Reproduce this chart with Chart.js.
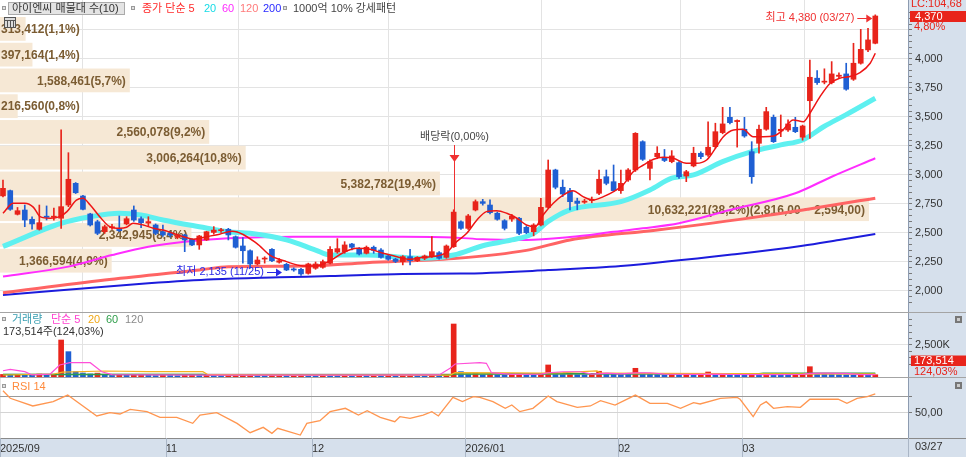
<!DOCTYPE html>
<html>
<head>
<meta charset="utf-8">
<script src="https://cdn.jsdelivr.net/npm/chart.js@4.4.1/dist/chart.umd.min.js"></script>
<style>
  body { margin: 0; background: #fff; width: 966px; height: 457px; overflow: hidden; position: relative; }
  canvas { position: absolute; left: 0; }
</style>
</head>
<body>
<canvas id="priceCanvas" width="966" height="312" style="top:0"></canvas>
<canvas id="volCanvas" width="966" height="65" style="top:312px"></canvas>
<canvas id="rsiCanvas" width="966" height="80" style="top:377px"></canvas>
<script>
// daily candles, 2025/09 .. 2026/03/27 (index = trading day)
const opens  = [2819,2865,2661,2698,2618,2532,2645,2635,2627,2741,2928,2819,2664,2597,2511,2545,2540,2578,2698,2623,2585,2569,2511,2500,2462,2483,2446,2397,2440,2505,2520,2532,2468,2388,2347,2233,2275,2359,2248,2230,2190,2187,2152,2196,2204,2239,2336,2339,2405,2368,2325,2377,2353,2302,2275,2253,2296,2261,2282,2296,2330,2290,2382,2597,2540,2698,2770,2741,2670,2606,2620,2627,2549,2511,2569,2721,3043,2894,2865,2775,2765,2780,2842,2985,2942,2865,2957,3043,3287,3057,3158,3150,3115,3106,2991,3078,3187,3172,3244,3365,3497,3460,3394,3201,3273,3394,3497,3380,3388,3411,3325,3640,3834,3800,3796,3850,3871,3825,3963,4078,4135];
const closes = [2885,2704,2692,2612,2578,2589,2635,2645,2727,2963,2847,2704,2569,2497,2554,2554,2520,2623,2612,2589,2598,2497,2483,2480,2476,2440,2397,2474,2511,2525,2525,2483,2377,2347,2233,2267,2282,2261,2261,2181,2181,2147,2233,2233,2253,2359,2365,2397,2377,2319,2377,2350,2290,2273,2255,2296,2261,2290,2302,2339,2282,2388,2680,2540,2647,2770,2755,2675,2618,2540,2645,2497,2503,2569,2721,3043,2894,2836,2770,2755,2775,2790,2963,2928,2865,2928,3043,3359,3135,3115,3187,3125,3164,2985,3028,3187,3158,3239,3373,3440,3451,3470,3336,2985,3394,3546,3287,3394,3440,3373,3422,3842,3796,3805,3871,3860,3739,3963,4083,4164,4370];
const highs  = [2957,2870,2720,2741,2640,2741,2733,2715,3388,3192,2935,2825,2670,2610,2568,2575,2647,2640,2733,2640,2640,2578,2569,2510,2490,2490,2450,2480,2515,2555,2540,2540,2475,2460,2355,2295,2295,2365,2280,2238,2200,2195,2240,2250,2267,2382,2451,2425,2410,2375,2388,2388,2365,2310,2282,2305,2359,2296,2310,2468,2339,2397,2700,2605,2660,2785,2790,2785,2680,2615,2660,2635,2560,2580,2799,3129,3050,2957,2885,2800,2790,2810,3043,3043,3086,3043,3055,3365,3295,3130,3244,3220,3210,3115,3040,3239,3200,3459,3446,3583,3583,3475,3497,3287,3431,3583,3517,3517,3475,3497,3430,3991,3900,3915,3977,3880,3963,4135,4255,4264,4380];
const lows   = [2810,2695,2655,2554,2532,2525,2612,2610,2540,2727,2840,2698,2560,2485,2497,2530,2512,2570,2600,2545,2555,2485,2470,2465,2450,2339,2390,2359,2435,2490,2505,2440,2370,2239,2196,2225,2240,2253,2240,2175,2170,2135,2145,2187,2196,2233,2325,2325,2355,2310,2319,2325,2282,2265,2245,2225,2225,2253,2270,2290,2275,2282,2375,2530,2530,2690,2740,2664,2610,2526,2600,2485,2494,2475,2560,2715,2880,2813,2698,2700,2755,2760,2830,2915,2858,2842,2945,3030,3125,2957,3140,3115,3105,2970,2942,3070,3140,3160,3230,3355,3440,3240,3325,2928,3187,3385,3280,3330,3375,3365,3300,3316,3780,3785,3785,3830,3730,3815,3955,4063,4130];
// volume, thousand shares
const volumes = [200,160,210,180,150,230,140,190,2890,1980,420,310,240,300,150,120,180,140,160,200,130,110,150,120,100,140,160,120,150,110,100,130,150,170,200,140,120,130,160,110,140,180,150,120,200,150,130,160,110,120,100,130,110,120,90,140,160,110,100,150,130,200,4140,420,250,300,180,200,160,150,170,200,160,140,230,940,300,220,260,200,180,200,450,280,250,230,200,680,300,210,180,160,200,170,190,160,230,390,200,220,190,170,160,200,180,220,180,160,150,170,200,805,250,230,200,180,170,160,200,139.9,173.514];

// moving averages (index, price)
const ma5Idx = [0,1.4,3,4.2,5.1,6.5,7.8,8.8,10.1,11,12,13.3,14.7,16.1,17,17.9,19.3,20.7,22,23.4,24.8,26.2,28,29.8,31.5,34.9,36.7,39,41.3,43.1,45,46.8,48.7,50.5,52.3,54.2,56,57.8,59.7,61,62.4,63.8,65.2,66.5,67.9,69.3,70.7,72,73.2,74.3,75.7,77.1,78.4,79.8,81.2,82.6,84,85.3,86.7,88.1,89.5,90.8,92.2,94,95.4,96.8,97.7,99.1,100.5,101.8,103.2,104.6,106,107.3,108.7,110.1,111,112.4,113.8,115.1,116.5,117.9,119.3,120];
const ma5Val = [2670,2756,2756,2721,2641,2627,2641,2684,2784,2799,2741,2641,2554,2540,2549,2584,2569,2540,2526,2497,2468,2446,2468,2490,2515,2411,2310,2253,2216,2216,2261,2330,2368,2359,2325,2296,2273,2290,2302,2330,2425,2497,2612,2684,2692,2670,2627,2569,2554,2655,2756,2828,2865,2813,2784,2813,2856,2914,3028,3086,3135,3152,3144,3101,3101,3129,3201,3330,3388,3394,3330,3330,3336,3388,3474,3459,3532,3675,3790,3834,3848,3882,3963,4049];
const ma20Idx = [0,8,12,16,19,22,27,31,34,39,43,45,50,55,58,62,66,70,73,75,78,85,89,92,95,99,103,107,110,113,116,120];
const ma20Val = [2384,2584,2640,2670,2655,2612,2554,2511,2497,2440,2353,2310,2310,2290,2282,2310,2390,2440,2497,2600,2700,2770,2871,2972,3000,3115,3201,3259,3302,3420,3520,3661];
const ma60Idx = [0,9,15,20,25,31,40,55,62,66,72,78,84,88,93,100,109,114,120];
const ma60Val = [2124,2210,2310,2382,2425,2454,2468,2468,2462,2445,2440,2465,2510,2540,2584,2698,2842,2985,3144];
const ma120Idx = [0,14,27,31,42,50,62,72,78,90,104,120];
const ma120Val = [1985,2095,2181,2210,2215,2244,2280,2350,2440,2526,2641,2799];
const ma200Idx = [0,20,29,38,45,55,63,75,85,101,110,115,120];
const ma200Val = [1966,2066,2101,2118,2129,2147,2150,2180,2215,2319,2390,2440,2491];

// volume averages (index, thousand shares)
const vma5Idx = [0,1,3,4,6.5,7.8,9.2,12,13.6,15,20,30,40,50,60,61.5,62.2,65.6,66.5,67.2,70,74,75,77,79.4,81,83,85,87,89,91,95,98,100,105,110,111,113,116,118,120];
const vma5Val = [490,600,414,160,230,937,1117,1117,414,180,170,150,150,150,160,680,1016,1117,1070,336,210,230,330,410,410,230,300,250,320,330,220,200,230,200,190,200,290,300,280,180,190];
const vma20Idx = [0,7,8.2,14,20,27.5,28.2,40,61.5,62.2,70,74,77,81.7,82.3,90,100,110,120];
const vma20Val = [156,234,380,470,420,414,180,150,150,340,330,300,336,480,300,280,260,250,250];
const vma60Idx = [0,27.5,28.2,61.5,62.2,80,104,104.6,120];
const vma60Val = [200,200,160,160,234,250,250,289,289];
const vma120Idx = [0,120];
const vma120Val = [210,230];

// RSI 14 (index, value)
const rsiIdx = [0,1,4.1,6.9,8.9,12.9,14.7,16.1,17.5,19.8,21.6,23.9,26.1,27.1,29.4,32.2,34,35.8,37,37.8,40.9,41.8,43.6,45,47.1,48.9,50.1,51.9,53.9,54.6,56,57.8,59,59.9,61.9,63.2,64.7,65.6,67.4,69.1,70,71.1,72.9,75,76.2,79,80.8,82.2,84.2,87,89,91.4,93.2,95,95.9,98.7,101,101.4,103.2,104.2,105,106,107.9,109.7,111,114.9,116.1,117.5,118.9,120];
const rsiVal = [77.5,68,58.4,63.8,72,45.9,50,48.4,54.2,51.3,44.2,44.2,36.7,47,50,36.7,25,31.7,24.2,30.5,22.1,36.7,40,51.3,55.5,47,52.5,44.2,38.8,45,43,47,51.3,45.9,69.2,63.8,70,69.2,63.8,55.5,59.6,51.3,55.5,70.9,63.8,56.7,58.4,65,59.6,72,61.7,61.7,55.5,62.5,60.9,68,69.2,66.8,45,59.6,63.8,55.5,57.5,56.7,66.8,66.8,61.7,68,70,73.4];

// volume profile bands (매물대)
const bandTops = [4370,4148,3926,3704,3482,3260,3038,2816,2594,2372];
const bandStep = 222;
const bandVolumes = [313412,397164,1588461,216560,2560078,3006264,5382782,10632221,2342945,1366594];
const bandPcts = ['1,1','1,4','5,7','0,8','9,2','10,8','19,4','38,2','8,4','4,9'];
const bandRange = '2,816,00 ~ 2,594,00';

// month axis
const monthPos = [-0.41,22.4,42.5,63.6,84.6,101.7];
const monthNames = ['2025/09','11','12','2026/01','02','03'];
const priceTicks = [];
for (let v = 1900; v <= 4400; v += 50) priceTicks.push(v);

const exDivIdx = 62;
const lowIdx = 41, lowPrice = 2135;
const highIdx = 120, highPrice = 4380;

const FONT = "'Liberation Sans','Noto Sans CJK KR',sans-serif";
const UP = '#e8241b', DOWN = '#1f5fd3', AXIS_BG = '#d6e0ec';
const X_MIN = -0.41, X_MAX = 124.5;

const fmt = v => Math.round(v).toLocaleString('en-US');
const candleColors = closes.map((c, i) => c >= opens[i] ? UP : DOWN);
const volColors = volumes.map((v, i) => (i === 0 || v >= volumes[i - 1]) ? UP : DOWN);

function pts(xs, ys) { return xs.map((x, i) => ({x: x, y: ys[i]})); }

function lineSet(xs, ys, color, width, order, smooth) {
  return {
    type: 'line', data: pts(xs, ys), borderColor: color, borderWidth: width,
    pointRadius: 0, fill: false, order: order,
    cubicInterpolationMode: smooth ? 'monotone' : 'default', tension: 0
  };
}

function xAxis(showLabels) {
  return {
    type: 'linear', min: X_MIN, max: X_MAX, offset: false,
    afterBuildTicks: s => { s.ticks = monthPos.map(v => ({value: v})); },
    afterFit: s => { s.height = showLabels ? 19 : 0; s.paddingLeft = 0; s.paddingRight = 0; },
    grid: {color: '#e3e3e3', drawTicks: false},
    border: {display: false},
    ticks: {
      display: showLabels, align: 'start', padding: 4, autoSkip: false, maxRotation: 0,
      color: '#333', font: {family: FONT, size: 11},
      callback: (v, i) => monthNames[i]
    }
  };
}

function yAxis(min, max, ticks, label, gridColor) {
  return {
    type: 'linear', position: 'right', min: min, max: max,
    afterBuildTicks: s => { s.ticks = ticks.map(v => ({value: v})); },
    // keep the plot flush with the panel edges
    afterFit: s => { s.width = 58; s.paddingTop = 0; s.paddingBottom = 0; },
    grid: {color: c => gridColor(c.tick ? c.tick.value : null), tickColor: '#7a7a7a', tickLength: 4},
    border: {display: true, color: '#8d9bb0'},
    ticks: {autoSkip: false, padding: 3, color: '#333', font: {family: FONT, size: 11}, callback: v => label(v)}
  };
}

// light blue axis column on the right
const axisBg = {
  id: 'axisBg',
  beforeDraw(chart) {
    const c = chart.ctx, a = chart.chartArea;
    c.save();
    c.fillStyle = AXIS_BG;
    c.fillRect(a.right, 0, chart.width - a.right, chart.height);
    c.restore();
  }
};

function square(c, x, y) {
  c.fillStyle = '#9a9a9a';
  c.fillRect(x, y, 4, 4);
  c.fillStyle = '#e0e0e0';
  c.fillRect(x + 1, y + 1, 2, 2);
}

function arrowRight(c, x1, x2, y, color) {
  c.strokeStyle = color; c.fillStyle = color; c.lineWidth = 1;
  c.beginPath(); c.moveTo(x1, y + 0.5); c.lineTo(x2 - 4, y + 0.5); c.stroke();
  c.beginPath(); c.moveTo(x2, y + 0.5); c.lineTo(x2 - 6, y - 3.5); c.lineTo(x2 - 6, y + 4.5); c.closePath(); c.fill();
}

const bandsPlugin = {
  id: 'bands',
  beforeDatasetsDraw(chart) {
    const c = chart.ctx, a = chart.chartArea, y = chart.scales.y;
    const maxVol = Math.max(...bandVolumes);
    c.save();
    c.font = 'bold 12px ' + FONT;
    c.textBaseline = 'middle';
    bandTops.forEach((top, i) => {
      const y1 = y.getPixelForValue(top), y2 = y.getPixelForValue(top - bandStep);
      const w = a.width * 0.957 * bandVolumes[i] / maxVol;
      c.fillStyle = '#f6e8d5';
      c.fillRect(a.left, y1 + 1, w, y2 - y1 - 2);
      let txt = fmt(bandVolumes[i]) + '(' + bandPcts[i] + '%)';
      if (bandVolumes[i] === maxVol) txt += '(' + bandRange + ')';
      const tw = c.measureText(txt).width;
      c.fillStyle = '#7b5c32';
      c.fillText(txt, Math.max(a.left + 1, a.left + w - tw - 4), (y1 + y2) / 2 + 1);
    });
    c.restore();
  }
};

const priceNotes = {
  id: 'priceNotes',
  afterDraw(chart) {
    const c = chart.ctx, xs = chart.scales.x, ys = chart.scales.y;
    c.save();
    c.textBaseline = 'middle';

    // legend row
    c.font = '11px ' + FONT;
    square(c, 2, 6);
    c.fillStyle = '#e4e4e4'; c.fillRect(8, 2, 117, 13);
    c.strokeStyle = '#aaa'; c.lineWidth = 1; c.strokeRect(8.5, 2.5, 116, 12);
    c.fillStyle = '#333'; c.fillText('아이엔씨 매물대 수(10)', 12, 9);
    square(c, 131, 6);
    const parts = [['종가 단순 5', '#ff2a2a', 142], ['20', '#16dbe6', 204], ['60', '#ff2cff', 222], ['120', '#ff7a7a', 240], ['200', '#2a2aff', 263]];
    parts.forEach(p => { c.fillStyle = p[1]; c.fillText(p[0], p[2], 9); });
    square(c, 283, 6);
    c.fillStyle = '#444'; c.fillText('1000억 10% 강세패턴', 293, 9);

    // grid icon
    c.fillStyle = '#dcdcdc'; c.fillRect(4, 17, 12, 11);
    c.strokeStyle = '#555'; c.strokeRect(4.5, 17.5, 11, 10);
    c.beginPath();
    [7.5, 10.5, 13.5].forEach(x => { c.moveTo(x, 20); c.lineTo(x, 27); });
    c.moveTo(5, 20.5); c.lineTo(15, 20.5);
    c.stroke();

    // ex-dividend marker
    const dx = Math.round(xs.getPixelForValue(exDivIdx)) + 0.5;
    const dTop = ys.getPixelForValue(closes[exDivIdx]);
    c.fillStyle = '#444'; c.textAlign = 'center';
    c.fillText('배당락(0,00%)', dx, 137);
    c.textAlign = 'left';
    c.strokeStyle = '#f03030'; c.fillStyle = '#f03030';
    c.beginPath(); c.moveTo(dx, 145); c.lineTo(dx, dTop); c.stroke();
    c.beginPath(); c.moveTo(dx - 5, 155); c.lineTo(dx + 5, 155); c.lineTo(dx, 162); c.closePath(); c.fill();

    // high / low labels
    const hx = xs.getPixelForValue(highIdx) - 3, hy = Math.round(ys.getPixelForValue(highPrice) + 3);
    c.fillStyle = '#f03030'; c.textAlign = 'right';
    c.fillText('최고 ' + fmt(highPrice) + ' (03/27)', hx - 18, hy);
    arrowRight(c, hx - 15, hx, hy, '#f03030');
    const lx = xs.getPixelForValue(lowIdx) - 19, ly = Math.round(ys.getPixelForValue(lowPrice) - 3);
    c.fillStyle = '#2a2ae6';
    c.fillText('최저 ' + fmt(lowPrice) + ' (11/25)', lx - 18, ly);
    arrowRight(c, lx - 15, lx, ly, '#2a2ae6');
    c.textAlign = 'left';

    // right axis current price
    c.fillStyle = '#e8241b'; c.fillText('LC:104,68', 911, 4);
    c.fillRect(910, 11, 56, 11);
    c.fillStyle = '#fff'; c.fillText(fmt(closes[closes.length - 1]), 915, 16.5);
    c.fillStyle = '#e8241b'; c.fillText('4,80%', 914, 27);
    c.restore();
  }
};

new Chart(document.getElementById('priceCanvas'), {
  type: 'bar',
  data: {
    datasets: [
      lineSet(ma200Idx, ma200Val, '#1c1cdc', 2, 10, true),
      lineSet(ma120Idx, ma120Val, '#ff6464', 3, 9, true),
      lineSet(ma60Idx, ma60Val, '#ff2cff', 2, 8, true),
      lineSet(ma20Idx, ma20Val, '#5ef0f0', 5, 7, true),
      {
        type: 'bar', data: closes.map((_, i) => ({x: i, y: [lows[i], highs[i]]})),
        backgroundColor: candleColors, barThickness: 1, grouped: false, order: 5
      },
      {
        type: 'bar', data: closes.map((c, i) => ({x: i, y: [opens[i], c]})),
        backgroundColor: candleColors, barThickness: 5, minBarLength: 1, grouped: false, order: 4
      },
      lineSet(ma5Idx, ma5Val, '#ee1515', 1.5, 1, true)
    ]
  },
  options: {
    responsive: false, animation: false, events: [],
    layout: {padding: 0},
    plugins: {legend: {display: false}, tooltip: {enabled: false}},
    scales: {
      x: xAxis(false),
      y: yAxis(1819, 4508, priceTicks,
        v => (v % 250 === 0 && v >= 2000 && v <= 4000) ? fmt(v) : '',
        v => (v !== null && v % 250 === 0) ? '#e3e3e3' : 'rgba(0,0,0,0)')
    }
  },
  plugins: [axisBg, bandsPlugin, priceNotes]
});

// volume panel
const volNotes = {
  id: 'volNotes',
  afterDraw(chart) {
    const c = chart.ctx;
    c.save();
    c.strokeStyle = '#a4a4a4'; c.lineWidth = 1;
    c.beginPath(); c.moveTo(0, 0.5); c.lineTo(chart.width, 0.5); c.stroke();
    c.textBaseline = 'middle';
    c.font = '11px ' + FONT;
    square(c, 2, 5);
    const parts = [['거래량', '#3a9fb2', 12], ['단순 5', '#ff40d0', 51], ['20', '#f0a818', 88], ['60', '#2f9e4a', 106], ['120', '#8a8a8a', 125]];
    parts.forEach(p => { c.fillStyle = p[1]; c.fillText(p[0], p[2], 8); });
    const last = volumes[volumes.length - 1], prev = volumes[volumes.length - 2];
    const pct = (last / prev * 100).toFixed(2).replace('.', ',');
    c.fillStyle = '#333';
    c.fillText(fmt(last * 1000) + '주(' + pct + '%)', 3, 20);
    c.fillStyle = '#e8241b'; c.fillRect(911, 43.5, 55, 10.5);
    c.fillStyle = '#fff'; c.fillText(fmt(last * 1000), 914, 49);
    c.fillStyle = '#e8241b'; c.fillText(pct + '%', 914, 59.5);
    c.fillStyle = '#777'; c.fillRect(955, 4, 7, 7);
    c.fillStyle = '#ccc'; c.fillRect(957, 6, 3, 3);
    c.restore();
  }
};

new Chart(document.getElementById('volCanvas'), {
  type: 'bar',
  data: {
    datasets: [
      {type: 'bar', data: volumes.map((v, i) => ({x: i, y: v})), backgroundColor: volColors, barThickness: 5, minBarLength: 1, order: 5},
      lineSet(vma120Idx, vma120Val, '#9a9a9a', 1, 4, false),
      lineSet(vma60Idx, vma60Val, '#2f9e4a', 1.5, 3, false),
      lineSet(vma20Idx, vma20Val, '#f5b21e', 1.2, 2, false),
      lineSet(vma5Idx, vma5Val, '#ff4fd8', 1.2, 1, false)
    ]
  },
  options: {
    responsive: false, animation: false, events: [],
    layout: {padding: 0},
    plugins: {legend: {display: false}, tooltip: {enabled: false}},
    scales: {
      x: xAxis(false),
      y: yAxis(0, 5078, [1000, 1500, 2000, 2500, 3000, 3500, 4000, 4500],
        v => v === 2500 ? '2,500K' : '',
        v => v === 2500 ? '#e3e3e3' : 'rgba(0,0,0,0)')
    }
  },
  plugins: [axisBg, volNotes]
});

// RSI panel with the date strip
const rsiNotes = {
  id: 'rsiNotes',
  beforeDraw(chart) {
    const c = chart.ctx, a = chart.chartArea;
    c.save();
    c.fillStyle = AXIS_BG;
    c.fillRect(0, a.bottom, chart.width, chart.height - a.bottom);
    c.restore();
  },
  afterDraw(chart) {
    const c = chart.ctx, a = chart.chartArea, xs = chart.scales.x;
    c.save();
    c.strokeStyle = '#a4a4a4'; c.lineWidth = 1;
    c.beginPath(); c.moveTo(0, 0.5); c.lineTo(chart.width, 0.5); c.stroke();
    c.strokeStyle = '#8a8a8a';
    c.beginPath(); c.moveTo(0, a.bottom + 0.5); c.lineTo(chart.width, a.bottom + 0.5); c.stroke();
    c.strokeStyle = '#aab6c6';
    c.beginPath();
    monthPos.forEach(v => { const x = Math.round(xs.getPixelForValue(v)) + 0.5; c.moveTo(x, a.bottom); c.lineTo(x, chart.height); });
    c.moveTo(a.right + 0.5, a.bottom); c.lineTo(a.right + 0.5, chart.height);
    c.stroke();
    c.textBaseline = 'middle';
    c.font = '11px ' + FONT;
    square(c, 2, 7);
    c.fillStyle = '#ff8a3c'; c.fillText('RSI 14', 12, 10);
    c.fillStyle = '#333'; c.fillText('03/27', 915, 70);
    c.fillStyle = '#777'; c.fillRect(955, 5, 7, 7);
    c.fillStyle = '#ccc'; c.fillRect(957, 7, 3, 3);
    c.restore();
  }
};

new Chart(document.getElementById('rsiCanvas'), {
  type: 'line',
  data: {
    datasets: [lineSet(rsiIdx, rsiVal, '#ff9650', 1.3, 1, false)]
  },
  options: {
    responsive: false, animation: false, events: [],
    layout: {padding: 0},
    plugins: {legend: {display: false}, tooltip: {enabled: false}},
    scales: {
      x: xAxis(true),
      y: yAxis(18.4, 94.6, [50, 70],
        v => v === 50 ? '50,00' : '',
        v => v === 70 ? '#9a9a9a' : (v === 50 ? '#d4d4d4' : 'rgba(0,0,0,0)'))
    }
  },
  plugins: [axisBg, rsiNotes]
});
</script>
</body>
</html>
